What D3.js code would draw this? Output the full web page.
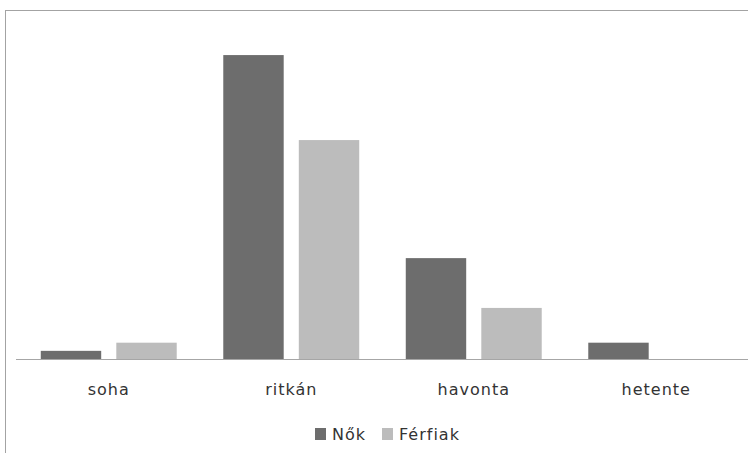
<!DOCTYPE html>
<html>
<head>
<meta charset="utf-8">
<script src="https://cdn.jsdelivr.net/npm/d3@7"></script>
<style>
  body { margin: 0; background: #fff; }
  text { font-family: "DejaVu Sans", sans-serif; fill: #333; }
</style>
</head>
<body>
<div id="vis"></div>
<script>
var categories = ["soha", "ritkán", "havonta", "hetente"];
var series = ["Nők", "Férfiak"];
var nokValues = [1.9, 70.8, 23.5, 3.8];
var ferfiakValues = [3.8, 51.0, 11.9, 0];
var colours = ["#6d6d6d", "#bcbcbc"];

var width = 748;
var height = 453;

var svg = d3.select('#vis')
    .append('svg')
    .attr('width', width)
    .attr('height', height);

// chart border (runs off the right edge)
svg.append('rect')
    .attr('x', 5.5)
    .attr('y', 10.5)
    .attr('width', 800)
    .attr('height', 500)
    .attr('fill', 'none')
    .attr('stroke', '#a3a3a3');

var baseY = 359;

var x0 = d3.scaleBand()
    .domain(categories)
    .range([17.5, 747.5])
    .paddingInner(0.255)
    .paddingOuter(0.1275);

var x1 = d3.scaleBand()
    .domain(series)
    .range([0, x0.bandwidth()])
    .paddingInner(0.2);

var y = d3.scaleLinear()
    .domain([0, 81.3])
    .range([baseY, 10]);

var colour = d3.scaleOrdinal().domain(series).range(colours);

var rows = categories.map(function(c, i) {
    return { cat: c, values: [
        { s: series[0], v: nokValues[i] },
        { s: series[1], v: ferfiakValues[i] }
    ]};
});

var groups = svg.selectAll('.grp')
    .data(rows)
    .enter()
    .append('g')
    .attr('class', 'grp')
    .attr('transform', function(d) { return 'translate(' + x0(d.cat) + ',0)'; });

groups.selectAll('rect')
    .data(function(d) { return d.values; })
    .enter()
    .append('rect')
    .attr('x', function(d) { return x1(d.s); })
    .attr('width', x1.bandwidth())
    .attr('y', function(d) { return y(d.v); })
    .attr('height', function(d) { return baseY - y(d.v); })
    .attr('fill', function(d) { return colour(d.s); });

// x axis
var xAxis = d3.axisBottom(x0).tickSize(0).tickPadding(0);
var axisG = svg.append('g')
    .attr('transform', 'translate(0,' + baseY + ')')
    .call(xAxis);
axisG.select('.domain')
    .attr('d', 'M16,0.5H748')
    .attr('stroke', '#a6a6a6');
axisG.selectAll('.tick text')
    .attr('y', 36)
    .attr('dy', 0)
    .style('font-size', '16px')
    .style('letter-spacing', '1px')
    .style('font-family', '"DejaVu Sans", sans-serif')
    .attr('fill', '#333');

// legend
var legendX = [315, 382];
var legend = svg.selectAll('.leg')
    .data(series)
    .enter()
    .append('g')
    .attr('class', 'leg')
    .attr('transform', function(d, i) { return 'translate(' + legendX[i] + ',428)'; });

legend.append('rect')
    .attr('width', 11)
    .attr('height', 12)
    .attr('fill', function(d) { return colour(d); });

legend.append('text')
    .attr('x', 17)
    .attr('y', 12)
    .style('font-size', '16px')
    .style('letter-spacing', '1px')
    .text(function(d) { return d; });
</script>
</body>
</html>
